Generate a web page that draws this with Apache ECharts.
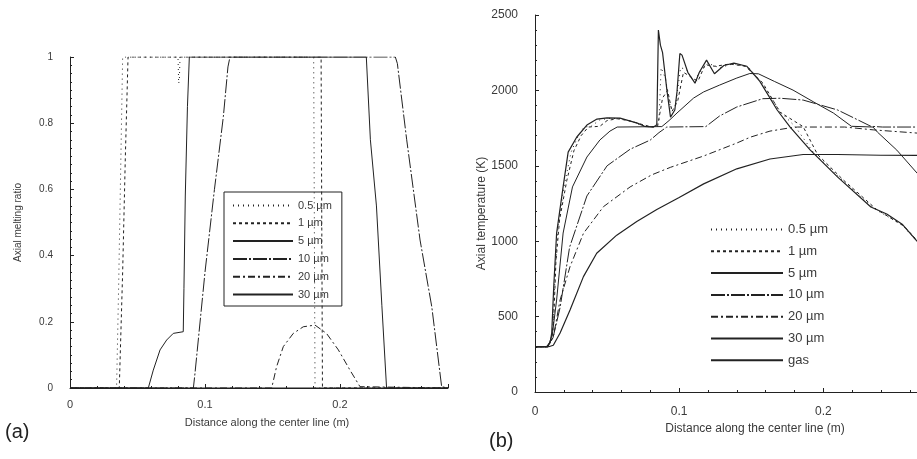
<!DOCTYPE html>
<html>
<head>
<meta charset="utf-8">
<script src="https://cdn.jsdelivr.net/npm/echarts@6/dist/echarts.min.js"></script>
<style>
  html, body { margin: 0; padding: 0; background: #fff; }
  #chart { width: 917px; height: 459px; }
</style>
</head>
<body>
<div id="chart"></div>
<script>
// Particle sizes shown in both panels
const sizeNames = ['0.5 µm', '1 µm', '5 µm', '10 µm', '20 µm', '30 µm'];
const gasName = 'gas';

// Panel (a): axial melting ratio vs distance along the center line (m)
const melt05 = [[0, 0], [0.0345, 0], [0.036, 0.3], [0.0375, 0.65], [0.039, 1], [0.080, 1], [0.0805, 0.92], [0.081, 0.93], [0.0815, 1], [0.1805, 1], [0.181, 0.5], [0.1815, 0], [0.28, 0]];
const melt1 = [[0, 0], [0.0365, 0], [0.039, 0.35], [0.041, 0.7], [0.043, 1], [0.186, 1], [0.1865, 0.5], [0.187, 0], [0.28, 0]];
const melt5 = [[0, 0], [0.058, 0], [0.0617, 0.054], [0.0667, 0.115], [0.0716, 0.145], [0.0765, 0.165], [0.0839, 0.17], [0.0844, 0.3], [0.0854, 0.58], [0.0870, 0.85], [0.0884, 1], [0.2195, 1], [0.2225, 0.75], [0.227, 0.55], [0.231, 0.25], [0.2345, 0], [0.28, 0]];
const melt10 = [[0, 0], [0.0914, 0], [0.0926, 0.045], [0.1, 0.35], [0.107, 0.6], [0.1136, 0.82], [0.117, 0.97], [0.1185, 1], [0.241, 1], [0.2425, 0.98], [0.2494, 0.75], [0.2593, 0.447], [0.268, 0.245], [0.2753, 0.004], [0.28, 0]];
const melt20 = [[0, 0], [0.1494, 0], [0.153, 0.064], [0.158, 0.125], [0.1654, 0.165], [0.1728, 0.185], [0.1815, 0.19], [0.190, 0.165], [0.1988, 0.115], [0.2074, 0.054], [0.2148, 0.004], [0.28, 0]];
const melt30 = [[0, 0], [0.28, 0]];

// Panel (b): axial temperature (K) vs distance along the center line (m)
const tempGas = [[0, 300], [0.008, 300], [0.0105, 330], [0.0116, 391], [0.013, 700], [0.015, 1054], [0.0195, 1360], [0.023, 1591], [0.029, 1691], [0.036, 1770], [0.043, 1810], [0.05, 1818], [0.059, 1816], [0.065, 1800], [0.071, 1783], [0.076, 1762], [0.082, 1757], [0.0845, 1770], [0.0856, 2400], [0.087, 2300], [0.0885, 2250], [0.0915, 2002], [0.094, 1823], [0.097, 1870], [0.0985, 1990], [0.1005, 2245], [0.102, 2234], [0.106, 2120], [0.111, 2048], [0.114, 2120], [0.119, 2201], [0.1245, 2110], [0.131, 2165], [0.138, 2181], [0.147, 2160], [0.156, 2060], [0.168, 1870], [0.177, 1757], [0.191, 1604], [0.21, 1425], [0.233, 1227], [0.244, 1180], [0.255, 1110], [0.265, 1000], [0.28, 930]];
const temp05 = [[0, 300], [0.0085, 300], [0.011, 340], [0.0125, 420], [0.014, 800], [0.016, 1100], [0.0205, 1380], [0.025, 1590], [0.03, 1700], [0.034, 1757], [0.039, 1762], [0.045, 1805], [0.052, 1815], [0.06, 1812], [0.068, 1790], [0.076, 1762], [0.083, 1757], [0.086, 1800], [0.0875, 2150], [0.0905, 2080], [0.094, 1880], [0.0975, 1900], [0.101, 2150], [0.105, 2140], [0.11, 2060], [0.115, 2130], [0.12, 2180], [0.128, 2150], [0.138, 2178], [0.148, 2155], [0.158, 2040], [0.17, 1860], [0.1805, 1760], [0.181, 1757], [0.193, 1590], [0.212, 1415], [0.235, 1218], [0.255, 1105], [0.265, 998], [0.28, 925]];
const temp1 = [[0, 300], [0.009, 300], [0.0115, 350], [0.013, 480], [0.0145, 860], [0.017, 1140], [0.022, 1400], [0.027, 1600], [0.032, 1700], [0.037, 1757], [0.045, 1762], [0.05, 1800], [0.057, 1812], [0.065, 1800], [0.072, 1780], [0.08, 1760], [0.085, 1760], [0.0885, 1950], [0.092, 2000], [0.095, 1860], [0.099, 1930], [0.103, 2120], [0.108, 2090], [0.113, 2060], [0.118, 2170], [0.125, 2160], [0.135, 2175], [0.146, 2160], [0.158, 2050], [0.17, 1855], [0.186, 1760], [0.187, 1750], [0.196, 1575], [0.214, 1405], [0.237, 1210], [0.256, 1100], [0.266, 995], [0.28, 920]];
const temp5 = [[0, 300], [0.009, 300], [0.012, 380], [0.015, 610], [0.0195, 1054], [0.026, 1360], [0.036, 1558], [0.045, 1671], [0.052, 1730], [0.057, 1757], [0.088, 1760], [0.093, 1800], [0.0985, 1850], [0.11, 1949], [0.117, 1990], [0.128, 2035], [0.14, 2082], [0.149, 2112], [0.155, 2110], [0.166, 2060], [0.179, 2002], [0.193, 1925], [0.207, 1850], [0.2195, 1762], [0.2345, 1757], [0.2375, 1724], [0.251, 1604], [0.265, 1452], [0.28, 1300]];
const temp10 = [[0, 300], [0.009, 300], [0.0125, 360], [0.0174, 560], [0.024, 960], [0.036, 1300], [0.05, 1500], [0.066, 1610], [0.08, 1671], [0.086, 1720], [0.0914, 1757], [0.1185, 1760], [0.128, 1830], [0.14, 1890], [0.158, 1945], [0.17, 1948], [0.186, 1936], [0.21, 1870], [0.233, 1762], [0.241, 1757], [0.28, 1757]];
const temp20 = [[0, 300], [0.009, 300], [0.013, 380], [0.0174, 610], [0.0243, 831], [0.0336, 1052], [0.0475, 1229], [0.066, 1360], [0.081, 1440], [0.094, 1490], [0.117, 1565], [0.14, 1651], [0.1494, 1690], [0.163, 1730], [0.177, 1752], [0.182, 1757], [0.2148, 1757], [0.235, 1738], [0.265, 1717], [0.28, 1705]];
const temp30 = [[0, 300], [0.0095, 300], [0.0127, 310], [0.0174, 391], [0.0243, 544], [0.0336, 765], [0.0428, 920], [0.0567, 1040], [0.0706, 1130], [0.0845, 1210], [0.1, 1290], [0.117, 1380], [0.14, 1480], [0.163, 1545], [0.186, 1575], [0.21, 1575], [0.24, 1570], [0.28, 1568]];

// Axis ticks
const ratioTicks = { min: 0, max: 1, interval: 0.2 };
const tempTicks = { min: 0, max: 2500, interval: 500 };
const distTicksA = { min: 0, max: 0.28, interval: 0.1 };
const distTicksB = { min: 0, max: 0.265, interval: 0.1 };

const ink = '#222';
const textInk = '#3a3a3a';
const font = 'Liberation Sans, Arial, sans-serif';

// Line dash patterns per particle size
const dashes = {
  '0.5 µm': [1, 4],
  '1 µm': [3, 3],
  '5 µm': 'solid',
  '10 µm': [14, 2, 2, 2],
  '20 µm': [7, 3, 2, 3],
  '30 µm': 'solid',
  'gas': 'solid'
};

function lineSeries(name, data, axis) {
  return {
    name: name,
    type: 'line',
    xAxisIndex: axis,
    yAxisIndex: axis,
    data: data,
    showSymbol: false,
    symbol: 'none',
    silent: true,
    animation: false,
    lineStyle: { color: ink, width: name === '30 µm' || name === gasName ? 1.2 : 1, type: dashes[name] },
    itemStyle: { color: ink }
  };
}

const meltSets = [melt05, melt1, melt5, melt10, melt20, melt30];
const tempSets = [temp05, temp1, temp5, temp10, temp20, temp30];

const series = [];
sizeNames.forEach((n, i) => series.push(lineSeries(n, meltSets[i], 0)));
sizeNames.forEach((n, i) => series.push(lineSeries(n, tempSets[i], 1)));
series.push(lineSeries(gasName, tempGas, 1));

function xAxisCfg(gridIndex, ticks, fontSize, labelMargin, nameGap, shift) {
  return {
    type: 'value', gridIndex: gridIndex,
    min: ticks.min, max: ticks.max, interval: ticks.interval,
    name: 'Distance along the center line (m)',
    nameLocation: 'middle', nameGap: nameGap,
    nameTextStyle: { color: textInk, fontSize: fontSize, fontFamily: font, padding: [0, 0, 0, shift * 2] },
    axisLine: { show: true, lineStyle: { color: ink, width: 1 } },
    axisTick: { show: true, inside: true, length: 4, lineStyle: { color: ink } },
    minorTick: { show: true, splitNumber: 5, length: 2, lineStyle: { color: ink } },
    splitLine: { show: false },
    axisLabel: { color: textInk, fontSize: fontSize, fontFamily: font, margin: labelMargin, showMaxLabel: false }
  };
}

function yAxisCfg(gridIndex, ticks, name, fontSize, labelMargin, nameGap, minorSplit, shiftDown) {
  return {
    type: 'value', gridIndex: gridIndex,
    min: ticks.min, max: ticks.max, interval: ticks.interval,
    name: name, nameLocation: 'middle', nameGap: nameGap, nameRotate: 90,
    nameTextStyle: { color: textInk, fontSize: fontSize, fontFamily: font, padding: [0, shiftDown * 2, 0, 0] },
    axisLine: { show: true, lineStyle: { color: ink, width: 1 } },
    axisTick: { show: true, inside: true, length: 4, lineStyle: { color: ink } },
    minorTick: { show: true, splitNumber: minorSplit, length: 2, lineStyle: { color: ink } },
    splitLine: { show: false },
    axisLabel: { color: textInk, fontSize: fontSize, fontFamily: font, margin: labelMargin, formatter: v => String(v) }
  };
}

const chart = echarts.init(document.getElementById('chart'), null, { renderer: 'canvas' });
chart.setOption({
  backgroundColor: '#fff',
  animation: false,
  grid: [
    { left: 70, top: 57, width: 378, height: 331 },
    { left: 535, top: 15, width: 382, height: 377 }
  ],
  xAxis: [
    xAxisCfg(0, distTicksA, 11, 11, 29, 8),
    xAxisCfg(1, distTicksB, 12, 14, 30, 29)
  ],
  yAxis: [
    yAxisCfg(0, ratioTicks, 'Axial melting ratio', 10, 17, 47, 8, 0),
    yAxisCfg(1, tempTicks, 'Axial temperature (K)', 12, 17, 27, 5, 10)
  ],
  legend: [
    {
      data: sizeNames,
      orient: 'vertical',
      left: 224, top: 192,
      padding: [8, 10, 6, 8],
      itemWidth: 60, itemHeight: 10, itemGap: 6.8,
      borderColor: ink, borderWidth: 1,
      selectedMode: false,
      itemStyle: { opacity: 0 },
      textStyle: { color: textInk, fontSize: 11, fontFamily: font, width: 46, align: 'right' }
    },
    {
      data: sizeNames.concat([gasName]),
      orient: 'vertical',
      left: 710, top: 223,
      padding: 0,
      itemWidth: 72, itemHeight: 10, itemGap: 8.8,
      selectedMode: false,
      itemStyle: { opacity: 0 },
      textStyle: { color: textInk, fontSize: 13, fontFamily: font }
    }
  ],
  graphic: [
    { type: 'text', left: 5, top: 422, style: { text: '(a)', fontSize: 20, fontFamily: font, fill: '#222' } },
    { type: 'text', left: 489, top: 431, style: { text: '(b)', fontSize: 20, fontFamily: font, fill: '#222' } }
  ],
  series: series
});
</script>
</body>
</html>
